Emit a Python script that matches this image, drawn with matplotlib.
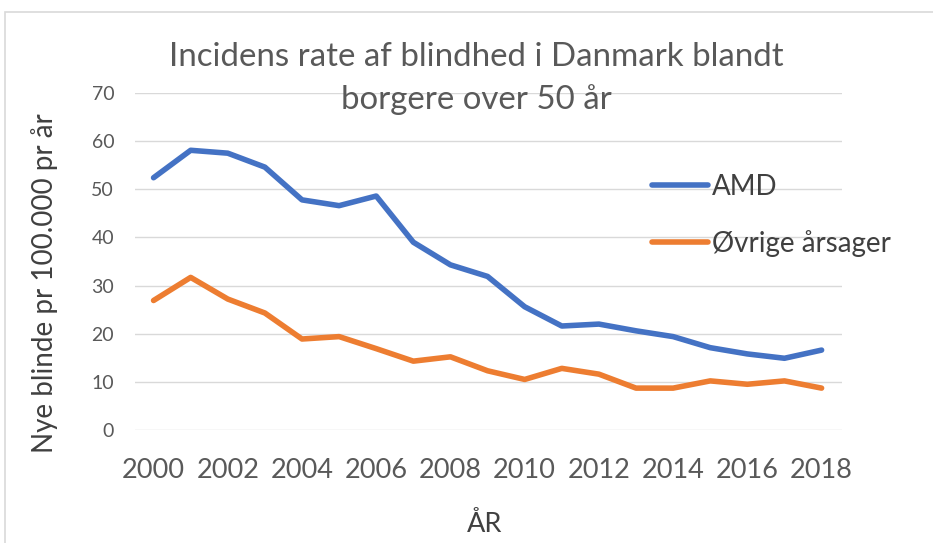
import matplotlib
matplotlib.use("Agg")
import matplotlib.pyplot as plt
from matplotlib.patches import Rectangle

years = list(range(2000, 2019))
amd = [52.4, 58.1, 57.5, 54.6, 47.8, 46.6, 48.6, 39.0, 34.3, 31.9,
       25.6, 21.6, 22.0, 20.6, 19.4, 17.1, 15.8, 14.9, 16.6]
ovrige = [26.9, 31.7, 27.2, 24.3, 18.9, 19.4, 16.9, 14.3, 15.2, 12.3,
          10.5, 12.8, 11.6, 8.7, 8.7, 10.2, 9.5, 10.2, 8.7]
xticks = list(range(2000, 2019, 2))
yticks = list(range(0, 71, 10))
series_names = ["AMD", "Øvrige årsager"]
colors = ["#4472C4", "#ED7D31"]

plt.rcParams['font.family'] = ['Lato', 'DejaVu Sans']

W, H = 933, 543
fig = plt.figure(figsize=(W / 100, H / 100), dpi=100)

def fx(px):
    return px / W

def fy(py):
    return 1 - py / H

# chart border
fig.patches.append(Rectangle((fx(5), fy(560)), fx(950), 548 / H,
                             transform=fig.transFigure, fill=False,
                             edgecolor="#D9D9D9", linewidth=1.2))

ax = fig.add_axes([fx(135), fy(430), fx(842) - fx(135), fy(93) - fy(430)])
ax.set_xlim(1999.5, 2018.55)
ax.set_ylim(0, 70)
ax.set_yticks(yticks)
ax.set_xticks(xticks)
ax.grid(axis='y', color="#D9D9D9", linewidth=1.0)
ax.set_axisbelow(True)
for s in ax.spines.values():
    s.set_visible(False)
ax.tick_params(length=0)
ax.tick_params(axis='y', labelsize=14, colors="#595959", pad=15)
ax.tick_params(axis='x', labelsize=19.5, colors="#595959", pad=20)

for vals, name, c in zip([amd, ovrige], series_names, colors):
    ax.plot(years, vals, color=c, linewidth=4, label=name,
            solid_joinstyle='round', solid_capstyle='round')

fig.text(fx(45), fy(283), "Nye blinde pr 100.000 pr år", fontsize=20,
         color="#404040", rotation=90, ha='center', va='center')
fig.text(fx(485), fy(525), "ÅR", fontsize=19.5, color="#404040", ha='center', va='center')

fig.text(fx(476), fy(57), "Incidens rate af blindhed i Danmark blandt",
         fontsize=23.8, color="#595959", ha='center', va='center')
fig.text(fx(476), fy(100), "borgere over 50 år",
         fontsize=23.8, color="#595959", ha='center', va='center')

leg = ax.legend(loc='upper left', bbox_to_anchor=(fx(652), fy(174)),
                bbox_transform=fig.transFigure, frameon=False, fontsize=20,
                handlelength=2.0, handletextpad=0.15, labelspacing=1.08,
                borderpad=0, borderaxespad=0)
for t in leg.get_texts():
    t.set_color("#404040")

fig.savefig("out.png", dpi=100)
